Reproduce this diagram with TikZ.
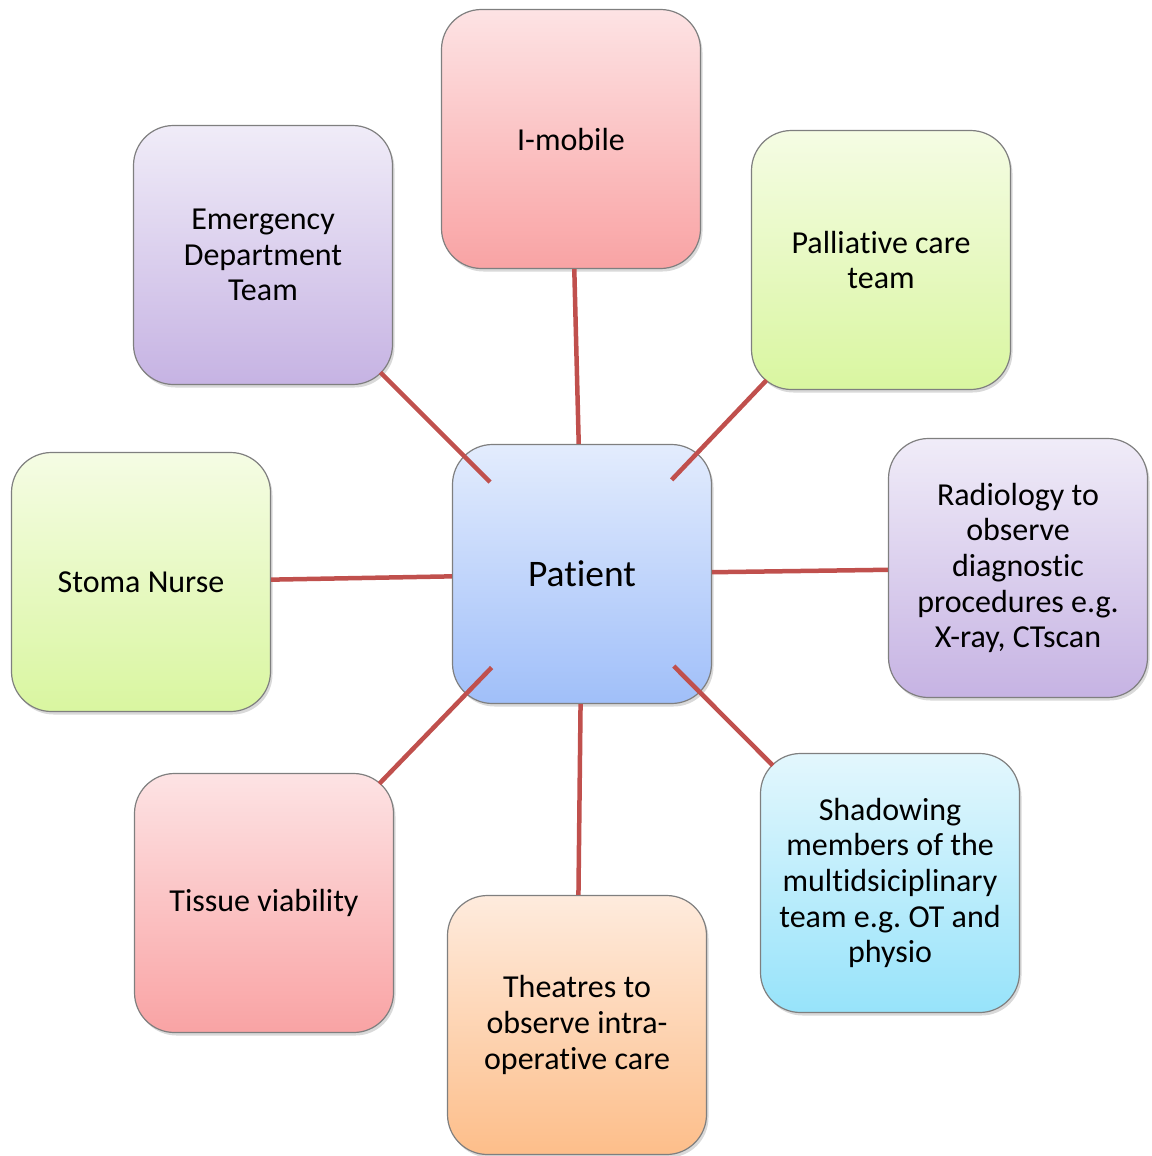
\documentclass[tikz,border=0pt]{standalone}
\usepackage{fontspec}
\setmainfont{Carlito}[Ligatures=NoCommon]
\frenchspacing
\usetikzlibrary{shadows}
\definecolor{linkred}{HTML}{C0504D}
\definecolor{edgegray}{HTML}{7F7F7F}
\definecolor{pinktop}{HTML}{FDE3E4}
\definecolor{pinkbot}{HTML}{F9A3A4}
\definecolor{violettop}{HTML}{F0ECF8}
\definecolor{violetbot}{HTML}{C6B3E3}
\definecolor{greentop}{HTML}{F5FCE4}
\definecolor{greenbot}{HTML}{D9F6A0}
\definecolor{bluetop}{HTML}{E3ECFD}
\definecolor{bluebot}{HTML}{A0BFF9}
\definecolor{orangetop}{HTML}{FEEBDD}
\definecolor{orangebot}{HTML}{FDBE8A}
\definecolor{cyantop}{HTML}{E3F7FD}
\definecolor{cyanbot}{HTML}{97E3FA}
\begin{document}
\begin{tikzpicture}[x=1pt,y=-1pt,
        box/.style={draw=edgegray, line width=1.2pt, rounded corners=40pt,
            minimum width=259pt, minimum height=259pt, align=center,
            font=\fontsize{32}{35.6}\selectfont,
            drop shadow={shadow xshift=2pt, shadow yshift=-3pt, opacity=0.3}},
        pinkbox/.style={box, top color=pinktop, bottom color=pinkbot},
        violetbox/.style={box, top color=violettop, bottom color=violetbot},
        greenbox/.style={box, top color=greentop, bottom color=greenbot},
        bluebox/.style={box, top color=bluetop, bottom color=bluebot},
        orangebox/.style={box, top color=orangetop, bottom color=orangebot},
        cyanbox/.style={box, top color=cyantop, bottom color=cyanbot},
        link/.style={draw=linkred, line width=4.5pt}]
                \useasboundingbox (0,0) rectangle (1151,1156);

                \node(patient) [bluebox, font=\fontsize{37.5}{44}\selectfont] at (582,574) {Patient};
                \node(imobile) [pinkbox] at (571,139) {I-mobile};
                \node(emergency) [violetbox] at (263,255) {Emergency\\Department\\Team};
                \node(palliative) [greenbox] at (881,260) {Palliative care\\team};
                \node(radiology) [violetbox] at (1018,568) {Radiology to\\observe\\diagnostic\\procedures e.g.\\X-ray, CTscan};
                \node(stoma) [greenbox] at (141,582) {Stoma Nurse};
                \node(tissue) [pinkbox] at (264,903) {Tissue viability};
                \node(theatres) [orangebox] at (577,1025) {Theatres to\\observe intra-\\operative care};
                \node(shadowing) [cyanbox] at (890,883) {Shadowing\\members of the\\multidsiciplinary\\team e.g. OT and\\physio};

                \draw[link] (imobile) -- (patient);
                \draw[link] (stoma) -- (patient);
                \draw[link] (radiology) -- (patient);
                \draw[link] (theatres) -- (patient);
                \draw[link, shorten <=166pt, shorten >=130pt] (emergency.center) -- (patient.center);
                \draw[link, shorten <=166pt, shorten >=130pt] (palliative.center) -- (patient.center);
                \draw[link, shorten <=166pt, shorten >=130pt] (tissue.center) -- (patient.center);
                \draw[link, shorten <=166pt, shorten >=130pt] (shadowing.center) -- (patient.center);
\end{tikzpicture}
\end{document}
